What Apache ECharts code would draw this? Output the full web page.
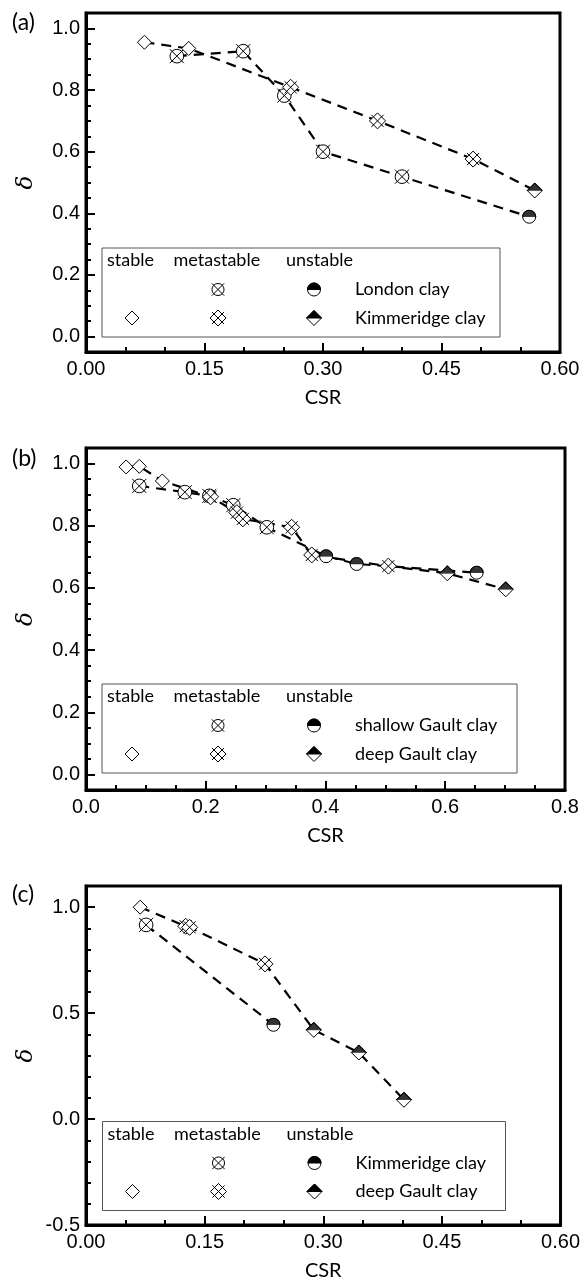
<!DOCTYPE html>
<html><head><meta charset="utf-8">
<script src="https://cdn.jsdelivr.net/npm/echarts@6/dist/echarts.min.js"></script>
<style>html,body{margin:0;padding:0;background:#fff}#c{width:583px;height:1285px}</style>
</head><body><div id="c"></div>
<script>
// ---------- Panel (a) ----------
const aLondonX = [0.115, 0.199, 0.251, 0.300, 0.400, 0.561];
const aLondonY = [0.910, 0.926, 0.782, 0.600, 0.519, 0.389];
const aLondonS = ['m', 'm', 'm', 'm', 'm', 'u'];
const aKimX = [0.074, 0.130, 0.259, 0.369, 0.490, 0.568];
const aKimY = [0.955, 0.935, 0.809, 0.700, 0.576, 0.474];
const aKimS = ['s', 's', 'm', 'm', 'm', 'u'];
const aXTicks = [0, 0.15, 0.30, 0.45, 0.60];
const aXLabels = ['0.00', '0.15', '0.30', '0.45', '0.60'];
const aYTicks = [0, 0.2, 0.4, 0.6, 0.8, 1.0];
const aYLabels = ['0.0', '0.2', '0.4', '0.6', '0.8', '1.0'];
const aNames = ['London clay', 'Kimmeridge clay'];

// ---------- Panel (b) ----------
const bShallowX = [0.089, 0.165, 0.206, 0.246, 0.302, 0.401, 0.452, 0.6525];
const bShallowY = [0.928, 0.908, 0.896, 0.866, 0.795, 0.702, 0.677, 0.649];
const bShallowS = ['m', 'm', 'm', 'm', 'm', 'u', 'u', 'u'];
const bDeepX = [0.067, 0.089, 0.1275, 0.208, 0.252, 0.262, 0.3435, 0.377, 0.505, 0.6035, 0.701];
const bDeepY = [0.989, 0.991, 0.944, 0.893, 0.842, 0.822, 0.795, 0.706, 0.670, 0.647, 0.5955];
const bDeepS = ['s', 's', 's', 'm', 'm', 'm', 'm', 'm', 'm', 'u', 'u'];
const bXTicks = [0, 0.2, 0.4, 0.6, 0.8];
const bXLabels = ['0.0', '0.2', '0.4', '0.6', '0.8'];
const bYTicks = [0, 0.2, 0.4, 0.6, 0.8, 1.0];
const bYLabels = ['0.0', '0.2', '0.4', '0.6', '0.8', '1.0'];
const bNames = ['shallow Gault clay', 'deep Gault clay'];

// ---------- Panel (c) ----------
const cKimX = [0.076, 0.237];
const cKimY = [0.9165, 0.445];
const cKimS = ['m', 'u'];
const cDeepX = [0.0685, 0.126, 0.131, 0.2263, 0.288, 0.345, 0.402];
const cDeepY = [1.0, 0.910, 0.905, 0.7325, 0.421, 0.314, 0.091];
const cDeepS = ['s', 'm', 'm', 'm', 'u', 'u', 'u'];
const cXTicks = [0, 0.15, 0.30, 0.45, 0.60];
const cXLabels = ['0.00', '0.15', '0.30', '0.45', '0.60'];
const cYTicks = [-0.5, 0, 0.5, 1.0];
const cYLabels = ['-0.5', '0.0', '0.5', '1.0'];
const cNames = ['Kimmeridge clay', 'deep Gault clay'];

// ---------- symbols ----------
const P_CIRCLE = 'M10,5 A5,5 0 1 1 0,5 A5,5 0 1 1 10,5 Z';
const P_DIAMOND = 'M5,0 L10,5 L5,10 L0,5 Z';
const P_CIRCLEX = 'M9.3,5 A4.3,4.3 0 1 1 0.7,5 A4.3,4.3 0 1 1 9.3,5 Z M0.6,0.6 L9.4,9.4 M9.4,0.6 L0.6,9.4';
const P_DIAMONDX = 'M5,0 L10,5 L5,10 L0,5 Z M1.2,1.2 L8.8,8.8 M8.8,1.2 L1.2,8.8';
const P_HALFC = 'M0,5 A5,5 0 0 1 10,5 Z';
const P_HALFD = 'M0,5 L5,0 L10,5 Z';
const SZ = { s: 14, mc: 14, md: 16, uc: 13, ud: 15 };

function symOf(kind, st) {
  if (st === 's') return ['path://' + P_DIAMOND, SZ.s];
  if (st === 'm') return kind === 'c' ? ['path://' + P_CIRCLEX, SZ.mc] : ['path://' + P_DIAMONDX, SZ.md];
  return kind === 'c' ? ['path://' + P_CIRCLE, SZ.uc] : ['path://' + P_DIAMOND, SZ.ud];
}

function mkSeries(gi, xs, ys, sts, kind) {
  const data = xs.map((x, i) => {
    const s = symOf(kind, sts[i]);
    return { value: [x, ys[i]], symbol: s[0], symbolSize: s[1] };
  });
  const line = {
    type: 'line', xAxisIndex: gi, yAxisIndex: gi * 2, data,
    showAllSymbol: true, animation: false, silent: true,
    lineStyle: { color: '#000', width: 2.2, type: [10, 7] },
    itemStyle: { color: '#fff', borderColor: '#000', borderWidth: 1 },
    z: 3
  };
  const w = kind === 'c' ? SZ.uc : SZ.ud;
  const tops = [];
  xs.forEach((x, i) => { if (sts[i] === 'u') tops.push([x, ys[i]]); });
  const top = {
    type: 'scatter', xAxisIndex: gi, yAxisIndex: gi * 2, data: tops,
    symbol: 'path://' + (kind === 'c' ? P_HALFC : P_HALFD),
    symbolSize: [w, w / 2], symbolOffset: [0, -w / 4],
    itemStyle: { color: '#000', borderColor: '#000', borderWidth: 0.8 },
    animation: false, silent: true, z: 4
  };
  return [line, top];
}

const TICKFONT = 'Liberation Sans';
const TXTFONT = 'Lato';

function lookup(ticks, labels) {
  return v => {
    for (let i = 0; i < ticks.length; i++) if (Math.abs(ticks[i] - v) < 1e-6) return labels[i];
    return '';
  };
}

const grids = [
  { left: 86, top: 13, width: 474, height: 339 },
  { left: 86, top: 448, width: 479, height: 342 },
  { left: 86, top: 886, width: 479, height: 339 }
].map(g => Object.assign(g, { show: true, borderColor: '#000', borderWidth: 3, backgroundColor: 'transparent' }));

function xAx(gi, max, interval, split, ticks, labels) {
  return {
    type: 'value', gridIndex: gi, min: 0, max, interval,
    axisLine: { show: true, onZero: false, lineStyle: { color: '#000', width: 3 } },
    axisTick: { show: true, inside: true, length: 9, lineStyle: { color: '#000', width: 2 } },
    minorTick: { show: true, splitNumber: split, length: 5, lineStyle: { color: '#000', width: 2 } },
    splitLine: { show: false }, minorSplitLine: { show: false },
    axisLabel: { formatter: lookup(ticks, labels), fontFamily: TICKFONT, fontSize: 20, color: '#000', margin: 7 },
    name: 'CSR', nameLocation: 'middle', nameGap: 36,
    nameTextStyle: { fontFamily: TXTFONT, fontSize: 20, color: '#000' }
  };
}
function yAxMain(gi, min, max, minor) {
  return {
    type: 'value', gridIndex: gi, min, max, interval: minor,
    axisLine: { show: true, onZero: false, lineStyle: { color: '#000', width: 3 } },
    axisTick: { show: true, inside: true, length: 5, lineStyle: { color: '#000', width: 2 } },
    axisLabel: { show: false }, splitLine: { show: false },
    name: 'δ', nameLocation: 'middle', nameGap: 48, nameRotate: 90,
    nameTextStyle: { fontFamily: 'DejaVu Serif', fontStyle: 'italic', fontSize: 23, color: '#000' }
  };
}
function yAxMajor(gi, min, max, ticks, labels) {
  return {
    type: 'value', gridIndex: gi, min, max, position: 'left',
    axisLine: { show: false, onZero: false },
    axisTick: { show: true, inside: true, length: 9, customValues: ticks, lineStyle: { color: '#000', width: 2 } },
    axisLabel: { show: true, customValues: ticks, formatter: lookup(ticks, labels), fontFamily: TICKFONT, fontSize: 20, color: '#000', margin: 6 },
    splitLine: { show: false }
  };
}

const xAxis = [
  xAx(0, 0.6, 0.15, 3, aXTicks, aXLabels),
  xAx(1, 0.8, 0.2, 4, bXTicks, bXLabels),
  xAx(2, 0.6, 0.15, 3, cXTicks, cXLabels)
];
const yAxis = [
  yAxMain(0, -0.05, 1.05, 0.05), yAxMajor(0, -0.05, 1.05, aYTicks, aYLabels),
  yAxMain(1, -0.05, 1.05, 0.05), yAxMajor(1, -0.05, 1.05, bYTicks, bYLabels),
  yAxMain(2, -0.5, 1.1, 0.1), yAxMajor(2, -0.5, 1.1, cYTicks, cYLabels)
];

const series = [].concat(
  mkSeries(0, aLondonX, aLondonY, aLondonS, 'c'),
  mkSeries(0, aKimX, aKimY, aKimS, 'd'),
  mkSeries(1, bShallowX, bShallowY, bShallowS, 'c'),
  mkSeries(1, bDeepX, bDeepY, bDeepS, 'd'),
  mkSeries(2, cKimX, cKimY, cKimS, 'c'),
  mkSeries(2, cDeepX, cDeepY, cDeepS, 'd')
);

// ---------- legends & panel labels ----------
const graphic = [];
const ST = (fill) => ({ fill, stroke: '#000', lineWidth: 1 });
function gText(x, y, t, size) {
  graphic.push({ type: 'text', x, y, z: 101, silent: true,
    style: { text: t, font: (size || 18) + 'px ' + TXTFONT, fill: '#000', verticalAlign: 'middle', align: 'left' } });
}
function gLine(x1, y1, x2, y2) {
  graphic.push({ type: 'line', z: 103, silent: true, shape: { x1, y1, x2, y2 }, style: { stroke: '#000', lineWidth: 1 } });
}
function gDiamond(cx, cy, w, fill) {
  const h = w / 2;
  graphic.push({ type: 'polygon', z: 102, silent: true,
    shape: { points: [[cx, cy - h], [cx + h, cy], [cx, cy + h], [cx - h, cy]] }, style: ST(fill) });
}
function gCircle(cx, cy, r, fill) {
  graphic.push({ type: 'circle', z: 102, silent: true, shape: { cx, cy, r }, style: ST(fill) });
}
function gCircleX(cx, cy, w) {
  gCircle(cx, cy, w * 0.43, '#fff');
  const a = w * 0.44;
  gLine(cx - a, cy - a, cx + a, cy + a); gLine(cx + a, cy - a, cx - a, cy + a);
}
function gDiamondX(cx, cy, w) {
  gDiamond(cx, cy, w, '#fff');
  const a = w * 0.38;
  gLine(cx - a, cy - a, cx + a, cy + a); gLine(cx + a, cy - a, cx - a, cy + a);
}
function gHalfCircle(cx, cy, w) {
  gCircle(cx, cy, w / 2, '#fff');
  graphic.push({ type: 'sector', z: 103, silent: true,
    shape: { cx, cy, r0: 0, r: w / 2, startAngle: Math.PI, endAngle: 2 * Math.PI }, style: ST('#000') });
}
function gHalfDiamond(cx, cy, w) {
  gDiamond(cx, cy, w, '#fff');
  const h = w / 2;
  graphic.push({ type: 'polygon', z: 103, silent: true,
    shape: { points: [[cx - h, cy], [cx, cy - h], [cx + h, cy]] }, style: ST('#000') });
}
function legend(L, T, W, names) {
  graphic.push({ type: 'rect', z: 100, silent: true, shape: { x: L, y: T, width: W, height: 89 },
    style: { fill: '#fff', stroke: '#555', lineWidth: 1 } });
  const hy = T + 12.5, r1 = T + 41.5, r2 = T + 70;
  gText(L + 5, hy, 'stable'); gText(L + 71.5, hy, 'metastable'); gText(L + 184, hy, 'unstable');
  gCircleX(L + 116, r1, SZ.mc);
  gHalfCircle(L + 212, r1, SZ.uc);
  gText(L + 253, r1, names[0]);
  gDiamond(L + 30, r2, SZ.s, '#fff');
  gDiamondX(L + 116, r2, SZ.md);
  gHalfDiamond(L + 212, r2, SZ.ud);
  gText(L + 253, r2, names[1]);
}
legend(102, 248, 398, aNames);
legend(102, 684, 415, bNames);
legend(102.5, 1121.5, 403, cNames);
gText(12, 23, '(a)', 23);
gText(12, 459, '(b)', 23);
gText(12, 895, '(c)', 23);

const chart = echarts.init(document.getElementById('c'), null, { renderer: 'canvas' });
chart.setOption({
  animation: false,
  backgroundColor: '#fff',
  grid: grids,
  xAxis, yAxis, series,
  graphic: { elements: graphic }
});
</script></body></html>
